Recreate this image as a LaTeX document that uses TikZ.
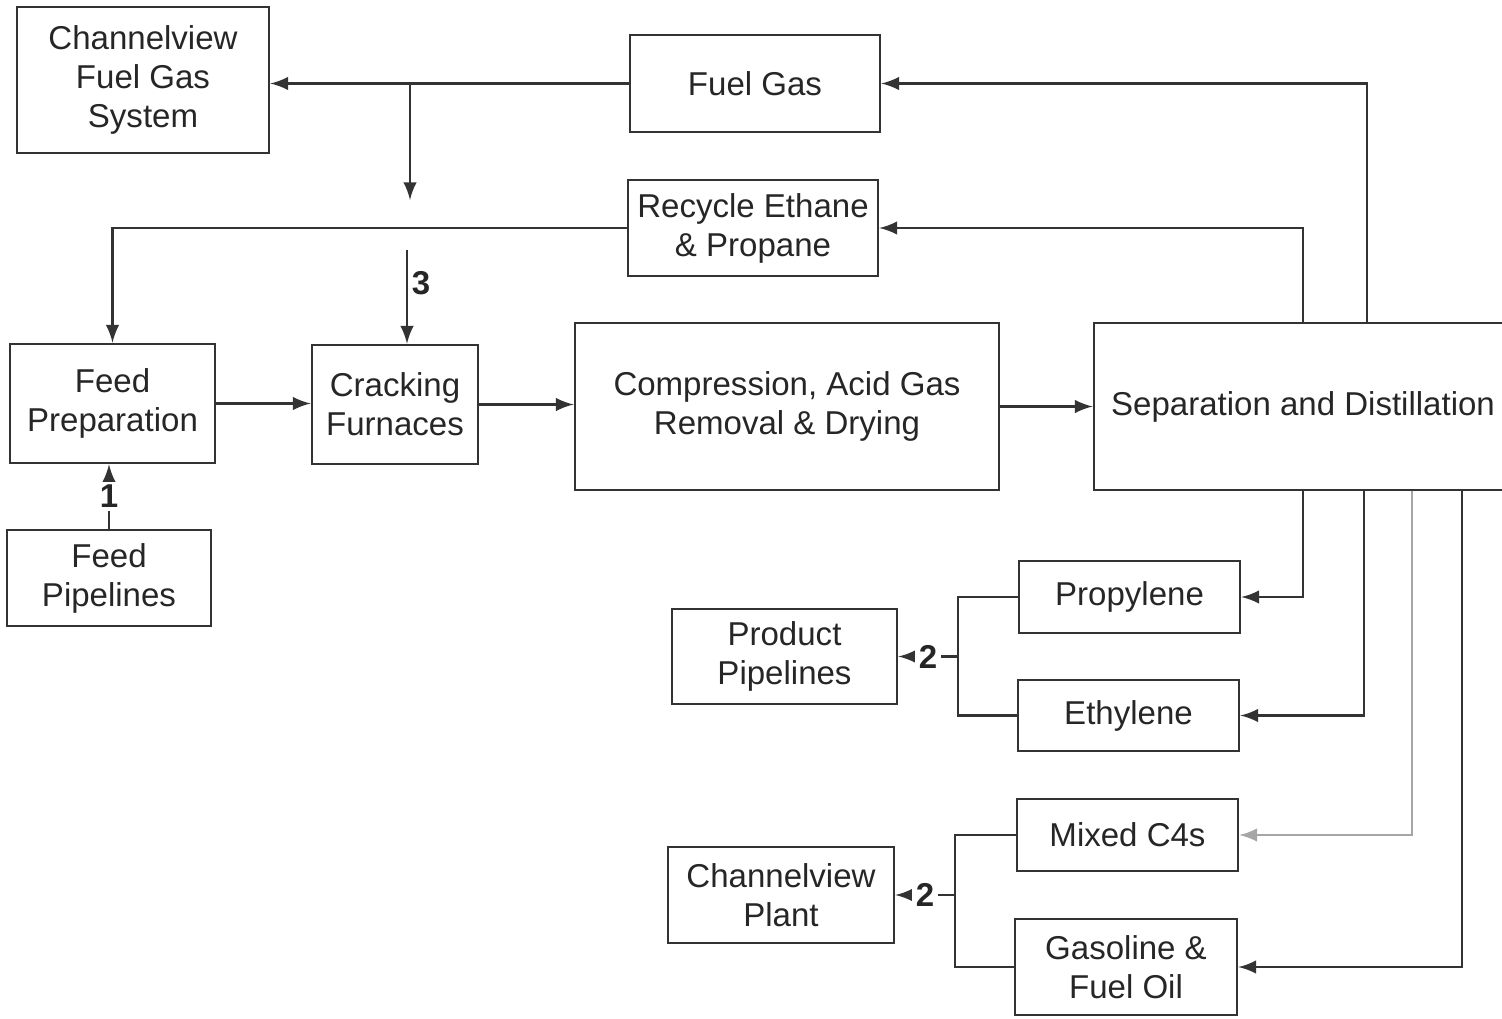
\documentclass[tikz,border=0pt]{standalone}
\usepackage{fontspec}
\setmainfont{Liberation Sans}
\usepackage{tikz}
\usetikzlibrary{calc}
\usetikzlibrary{arrows}

\begin{document}
\begin{tikzpicture}[black!80,line width=0.75pt,
                    boxnode/.style={draw,align=center,inner sep=0pt},
                    every node/.style={text=black!85,font=\fontsize{9.4}{11.1}\selectfont},
                    numlabel/.style={font=\fontsize{9.4}{11.1}\selectfont\bfseries,inner sep=1pt}]
  \useasboundingbox (0,0) rectangle (15.02,10.18);
  %\draw[help lines] (0,0) grid (15,10);

  \draw ( 1.43, 9.38)  node[boxnode,minimum width=2.52cm,minimum height=1.46cm](CFGS) {Channelview\\Fuel Gas\\System};
  \draw ( 7.55, 9.345) node[boxnode,minimum width=2.50cm,minimum height=0.97cm](FuelGas) {Fuel Gas};
  \draw ( 7.53, 7.90)  node[boxnode,minimum width=2.50cm,minimum height=0.96cm](Recycle) {Recycle Ethane\\\& Propane};

  \draw ( 1.125,6.145) node[boxnode,minimum width=2.05cm,minimum height=1.19cm](FeedPrep) {Feed\\Preparation};
  \draw ( 3.95, 6.135) node[boxnode,minimum width=1.66cm,minimum height=1.19cm](Cracking) {Cracking\\Furnaces};
  \draw ( 7.87, 6.115) node[boxnode,minimum width=4.24cm,minimum height=1.67cm](Compress) {Compression, Acid Gas\\Removal \& Drying};
  \draw (13.03, 6.115) node[boxnode,minimum width=4.18cm,minimum height=1.67cm](SepDist) {Separation and Distillation};
  \draw ( 1.09, 4.40)  node[boxnode,minimum width=2.04cm,minimum height=0.96cm](FeedPipe) {Feed\\Pipelines};

  \draw (11.295,4.21)  node[boxnode,minimum width=2.21cm,minimum height=0.72cm](Propylene) {Propylene};
  \draw (11.285,3.025) node[boxnode,minimum width=2.21cm,minimum height=0.71cm](Ethylene) {Ethylene};
  \draw ( 7.845,3.615) node[boxnode,minimum width=2.25cm,minimum height=0.95cm](ProdPipe) {Product\\Pipelines};
  \draw (11.275,1.83)  node[boxnode,minimum width=2.21cm,minimum height=0.72cm](MixedC4) {Mixed C4s};
  \draw (11.26, 0.51)  node[boxnode,minimum width=2.22cm,minimum height=0.96cm](Gasoline) {Gasoline \&\\Fuel Oil};
  \draw ( 7.81, 1.23)  node[boxnode,minimum width=2.26cm,minimum height=0.96cm](CvPlant) {Channelview\\Plant};

  \coordinate (fgSplit) at (4.10,9.345);
  \coordinate (fgEnd)   at (4.10,8.18);
  \coordinate (crTop)   at (4.07,7.68);
  \coordinate (ppJoin)  at (9.58,3.615);
  \coordinate (cpJoin)  at (9.55,1.23);

  % fuel gas and recycle
  \draw[-latex] (FuelGas.west) -- (FuelGas.west -| CFGS.east);
  \draw[-latex] (fgSplit) -- (fgEnd);
  \draw[-latex] (crTop) -- (crTop |- Cracking.north) node[pos=0.35,right,numlabel] {3};
  \draw[-latex] (Recycle.west) -| (FeedPrep.north);
  \draw[-latex] (SepDist.north) |- (Recycle.east);
  \draw[-latex] ([xshift=0.64cm]SepDist.north) |- (FuelGas.east);

  % main line
  \draw[-latex] (FeedPipe.north) -- (FeedPipe.north |- FeedPrep.south) node[midway,fill=white,numlabel] {1};
  \draw[-latex] (FeedPrep.east) -- (FeedPrep.east -| Cracking.west);
  \draw[-latex] (Cracking.east) -- (Cracking.east -| Compress.west);
  \draw[-latex] (Compress.east) -- (SepDist.west);

  % products
  \draw[-latex] (SepDist.south) |- (Propylene.east);
  \draw[-latex] ([xshift=0.61cm]SepDist.south) |- (Ethylene.east);
  \draw[-latex,black!35] ([xshift=1.09cm]SepDist.south) |- (MixedC4.east);
  \draw[-latex] ([xshift=1.59cm]SepDist.south) |- (Gasoline.east);

  \draw (Propylene.west) -| (ppJoin) |- (Ethylene.west);
  \draw[-latex] (ppJoin) -- (ProdPipe.east) node[midway,fill=white,numlabel] {2};
  \draw (MixedC4.west) -| (cpJoin) |- (Gasoline.west);
  \draw[-latex] (cpJoin) -- (CvPlant.east) node[midway,fill=white,numlabel] {2};

\end{tikzpicture}
\end{document}
